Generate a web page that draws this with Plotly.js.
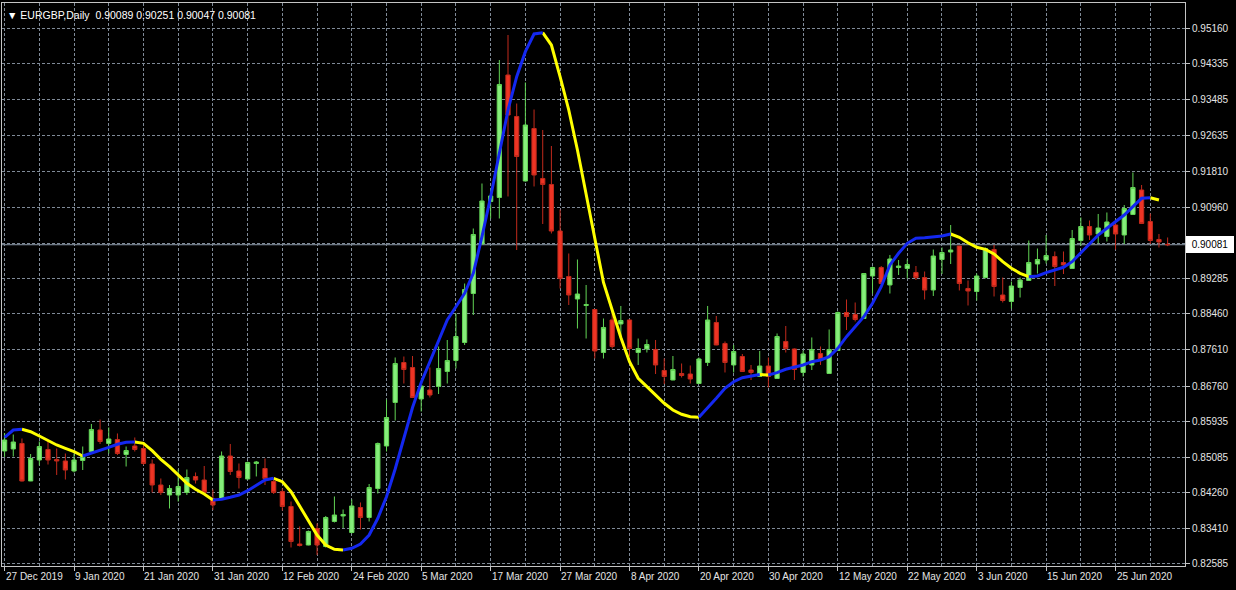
<!DOCTYPE html>
<html><head><meta charset="utf-8">
<script src="https://cdn.plot.ly/plotly-3.0.1.min.js"></script>
<style>html,body{margin:0;padding:0;background:#000;overflow:hidden}#chart{width:1236px;height:590px}</style>
</head><body><div id="chart"></div>
<script>
const dates = [
 '2019-12-27','2019-12-30','2019-12-31',
 '2020-01-02','2020-01-03','2020-01-06','2020-01-07','2020-01-08','2020-01-09','2020-01-10','2020-01-13','2020-01-14','2020-01-15','2020-01-16','2020-01-17','2020-01-20','2020-01-21','2020-01-22','2020-01-23','2020-01-24','2020-01-27','2020-01-28','2020-01-29','2020-01-30','2020-01-31',
 '2020-02-03','2020-02-04','2020-02-05','2020-02-06','2020-02-07','2020-02-10','2020-02-11','2020-02-12','2020-02-13','2020-02-14','2020-02-17','2020-02-18','2020-02-19','2020-02-20','2020-02-21','2020-02-24','2020-02-25','2020-02-26','2020-02-27','2020-02-28',
 '2020-03-02','2020-03-03','2020-03-04','2020-03-05','2020-03-06','2020-03-09','2020-03-10','2020-03-11','2020-03-12','2020-03-13','2020-03-16','2020-03-17','2020-03-18','2020-03-19','2020-03-20','2020-03-23','2020-03-24','2020-03-25','2020-03-26','2020-03-27','2020-03-30','2020-03-31',
 '2020-04-01','2020-04-02','2020-04-03','2020-04-06','2020-04-07','2020-04-08','2020-04-09','2020-04-10','2020-04-13','2020-04-14','2020-04-15','2020-04-16','2020-04-17','2020-04-20','2020-04-21','2020-04-22','2020-04-23','2020-04-24','2020-04-27','2020-04-28','2020-04-29','2020-04-30',
 '2020-05-01','2020-05-04','2020-05-05','2020-05-06','2020-05-07','2020-05-08','2020-05-11','2020-05-12','2020-05-13','2020-05-14','2020-05-15','2020-05-18','2020-05-19','2020-05-20','2020-05-21','2020-05-22','2020-05-25','2020-05-26','2020-05-27','2020-05-28','2020-05-29',
 '2020-06-01','2020-06-02','2020-06-03','2020-06-04','2020-06-05','2020-06-08','2020-06-09','2020-06-10','2020-06-11','2020-06-12','2020-06-15','2020-06-16','2020-06-17','2020-06-18','2020-06-19','2020-06-22','2020-06-23','2020-06-24','2020-06-25','2020-06-26','2020-06-29','2020-06-30',
 '2020-07-01','2020-07-02','2020-07-03'
];
const open = [
 0.85236,0.85283,0.85412,0.84531,0.85024,0.85271,0.85036,0.85001,0.84766,0.85012,
 0.85224,0.85729,0.85412,0.85506,0.85153,0.85353,0.85294,0.84930,0.84437,0.84202,
 0.84202,0.84261,0.84637,0.84554,0.84120,0.84120,0.85118,0.84766,0.84578,0.84942,
 0.84824,0.84519,0.84284,0.83932,0.83051,0.83027,0.83415,0.82992,0.83580,0.83709,
 0.83321,0.83908,0.83673,0.84355,0.85353,0.86375,0.87314,0.87197,0.86457,0.86668,
 0.86751,0.87103,0.87361,0.87784,0.88935,0.90098,0.91096,0.91190,0.94068,0.93093,
 0.91578,0.92811,0.91637,0.91496,0.90403,0.89335,0.88806,0.88653,0.88559,0.87549,
 0.88313,0.88219,0.88313,0.87549,0.87632,0.87620,0.87127,0.86903,0.87056,0.87044,
 0.86821,0.87314,0.88254,0.87761,0.87256,0.87455,0.87138,0.86986,0.87232,0.86939,
 0.87808,0.87632,0.87080,0.87256,0.87526,0.87056,0.87596,0.88489,0.88442,0.88348,
 0.89346,0.89546,0.89135,0.89546,0.89522,0.89429,0.89311,0.89017,0.89734,0.89910,
 0.90051,0.89053,0.88982,0.89311,0.89969,0.88900,0.88747,0.89076,0.89241,0.89628,
 0.89722,0.89804,0.89663,0.89522,0.90180,0.90509,0.90333,0.90274,0.90544,0.90309,
 0.90791,0.91366,0.90627,0.90204,0.90089
];
const high = [
 0.85658,0.85623,0.85529,0.85165,0.85459,0.85470,0.85294,0.85177,0.85177,0.85341,
 0.85870,0.85975,0.85788,0.85647,0.85341,0.85553,0.85377,0.85036,0.84590,0.84437,
 0.84801,0.84801,0.84731,0.84883,0.84331,0.85224,0.85400,0.84942,0.84989,0.85001,
 0.85059,0.84590,0.84355,0.84049,0.83462,0.83368,0.83533,0.83709,0.84167,0.83861,
 0.84096,0.84026,0.84460,0.85435,0.86445,0.87432,0.87455,0.87467,0.86786,0.87197,
 0.87690,0.87843,0.88465,0.89170,0.90462,0.91519,0.91402,0.94420,0.95007,0.93398,
 0.93892,0.93257,0.92776,0.92400,0.90908,0.89875,0.89734,0.89135,0.88565,0.88348,
 0.88583,0.88642,0.88324,0.87878,0.87855,0.87843,0.87408,0.87467,0.87291,0.87244,
 0.87432,0.88642,0.88407,0.87808,0.87726,0.87514,0.87256,0.87585,0.87432,0.87996,
 0.88172,0.87645,0.87596,0.87902,0.87690,0.88090,0.88512,0.88794,0.88724,0.89417,
 0.89569,0.89581,0.89840,0.89722,0.89734,0.89581,0.89452,0.89969,0.90016,0.90544,
 0.90055,0.89241,0.89405,0.90016,0.90075,0.89311,0.89217,0.89311,0.90180,0.89992,
 0.90309,0.89922,0.89922,0.90427,0.90720,0.90650,0.90803,0.90838,0.90662,0.91014,
 0.91778,0.91484,0.90814,0.90333,0.90251
];
const low = [
 0.85095,0.85106,0.84519,0.84528,0.84895,0.84918,0.84672,0.84566,0.84731,0.84789,
 0.85200,0.85400,0.85177,0.85142,0.84871,0.85224,0.84907,0.84261,0.84202,0.83885,
 0.84049,0.84202,0.84472,0.84225,0.83850,0.84096,0.84672,0.84355,0.84566,0.84637,
 0.84437,0.84225,0.83838,0.82969,0.82992,0.83020,0.82793,0.82969,0.83556,0.83427,
 0.83298,0.83392,0.83580,0.84237,0.85224,0.85952,0.86821,0.86485,0.86163,0.86492,
 0.86574,0.86821,0.87173,0.87726,0.88430,0.90090,0.90697,0.90697,0.91214,0.89957,
 0.91566,0.91449,0.90568,0.90345,0.89053,0.88665,0.88113,0.87878,0.87408,0.87408,
 0.87643,0.87925,0.87455,0.87256,0.87549,0.87044,0.86809,0.86898,0.86962,0.86821,
 0.86815,0.87232,0.87720,0.87080,0.87080,0.87098,0.86903,0.86980,0.86727,0.86933,
 0.87549,0.86903,0.86986,0.87138,0.87256,0.87050,0.87590,0.88078,0.88278,0.88342,
 0.88935,0.89158,0.88935,0.89370,0.89288,0.89252,0.88794,0.88877,0.89393,0.89628,
 0.89006,0.88653,0.88771,0.89288,0.88865,0.88724,0.88583,0.88841,0.89235,0.89405,
 0.89640,0.89111,0.89393,0.89516,0.90051,0.90192,0.90110,0.90157,0.89969,0.90098,
 0.90785,0.90575,0.90098,0.90016,0.90047
];
const close = [
 0.85494,0.85447,0.84531,0.85059,0.85341,0.85024,0.85001,0.84789,0.85024,0.85106,
 0.85741,0.85459,0.85517,0.85177,0.85247,0.85271,0.84942,0.84437,0.84261,0.84355,
 0.84402,0.84613,0.84554,0.84261,0.83967,0.85118,0.84754,0.84613,0.84965,0.84977,
 0.84590,0.84261,0.83932,0.83110,0.83016,0.83345,0.83027,0.83673,0.83732,0.83744,
 0.83944,0.83673,0.84378,0.85412,0.86022,0.87291,0.87150,0.86492,0.86762,0.86551,
 0.87173,0.87361,0.87925,0.89029,0.90321,0.91108,0.91226,0.93845,0.93128,0.92153,
 0.92893,0.91719,0.91496,0.90403,0.89288,0.88900,0.88923,0.88677,0.87585,0.88137,
 0.87690,0.88301,0.87643,0.87643,0.87737,0.87256,0.86986,0.87150,0.87009,0.86927,
 0.87397,0.88313,0.87726,0.87314,0.87573,0.87103,0.87080,0.87232,0.86986,0.87925,
 0.87643,0.87150,0.87514,0.87620,0.87385,0.87620,0.88489,0.88395,0.88324,0.89405,
 0.89546,0.89170,0.89746,0.89581,0.89616,0.89311,0.89017,0.89816,0.89898,0.89957,
 0.89170,0.88994,0.89346,0.89992,0.89100,0.88771,0.89111,0.89252,0.89663,0.89734,
 0.89828,0.89569,0.89605,0.90227,0.90509,0.90309,0.90474,0.90615,0.90333,0.90932,
 0.91425,0.90580,0.90180,0.90145,0.90081
];
const ma = [
 0.85553,0.85729,0.85745,0.85689,0.85588,0.85478,0.85377,0.85299,0.85219,0.85118,
 0.85182,0.85259,0.85322,0.85393,0.85440,0.85447,0.85416,0.85243,0.85041,0.84867,
 0.84672,0.84477,0.84336,0.84225,0.84085,0.84101,0.84148,0.84202,0.84303,0.84437,
 0.84554,0.84594,0.84514,0.84280,0.83944,0.83575,0.83262,0.83027,0.82926,0.82910,
 0.82950,0.83051,0.83262,0.83655,0.84162,0.84813,0.85564,0.86257,0.86845,0.87350,
 0.87808,0.88313,0.88625,0.88940,0.89410,0.90269,0.91209,0.92229,0.93246,0.94028,
 0.94615,0.95031,0.95061,0.94772,0.94028,0.93246,0.92306,0.91289,0.90192,0.89194,
 0.88548,0.87902,0.87333,0.86943,0.86746,0.86551,0.86356,0.86199,0.86098,0.86041,
 0.86027,0.86238,0.86473,0.86708,0.86863,0.86957,0.86997,0.87030,0.87020,0.87075,
 0.87155,0.87202,0.87256,0.87333,0.87373,0.87451,0.87648,0.87920,0.88155,0.88390,
 0.88705,0.89095,0.89605,0.89880,0.90114,0.90232,0.90246,0.90269,0.90286,0.90333,
 0.90255,0.90128,0.90020,0.89973,0.89863,0.89682,0.89527,0.89410,0.89330,0.89346,
 0.89424,0.89488,0.89551,0.89682,0.89894,0.90114,0.90309,0.90467,0.90622,0.90779,
 0.90974,0.91171,0.91186,0.91132,null
];
const tickDates = ['2019-12-27','2020-01-09','2020-01-21','2020-01-31','2020-02-12','2020-02-24','2020-03-05','2020-03-17','2020-03-27','2020-04-08','2020-04-20','2020-04-30','2020-05-12','2020-05-22','2020-06-03','2020-06-15','2020-06-25'];
const tickLabels = ['27 Dec 2019','9 Jan 2020','21 Jan 2020','31 Jan 2020','12 Feb 2020','24 Feb 2020','5 Mar 2020','17 Mar 2020','27 Mar 2020','8 Apr 2020','20 Apr 2020','30 Apr 2020','12 May 2020','22 May 2020','3 Jun 2020','15 Jun 2020','25 Jun 2020'];
const priceTicks = [0.82585,0.83410,0.84260,0.85085,0.85935,0.86760,0.87610,0.88460,0.89285,0.90110,0.90960,0.91810,0.92635,0.93485,0.94335,0.95160];
const symbol = 'EURGBP,Daily';

const idx = dates.map((d, i) => i);
const tickIdx = tickDates.map(d => dates.indexOf(d));
const n = close.length;
const last = n - 1;

function segments(up) {
  const xs = [], ys = [];
  let inRun = false;
  for (let i = 1; i < ma.length; i++) {
    if (ma[i] == null || ma[i - 1] == null) { inRun = false; continue; }
    const isUp = ma[i] > ma[i - 1];
    if (isUp === up) {
      if (!inRun) {
        if (xs.length) { xs.push(null); ys.push(null); }
        xs.push(i - 1); ys.push(ma[i - 1]);
      }
      xs.push(i); ys.push(ma[i]);
      inRun = true;
    } else inRun = false;
  }
  return { xs, ys };
}
const upSeg = segments(true), dnSeg = segments(false);

const gridColor = '#7f8a97';
const gridDash = '3px,2px';
const axisColor = '#c4c4c4';
const txtColor = '#e4e4e4';
const font = 'Liberation Sans, Arial, sans-serif';

const traces = [
  {
    type: 'candlestick', x: idx, open: open, high: high, low: low, close: close,
    increasing: { line: { color: '#62d455', width: 1 }, fillcolor: '#86ee7b' },
    decreasing: { line: { color: '#c22a1c', width: 1 }, fillcolor: '#ee3424' },
    whiskerwidth: 0, hoverinfo: 'skip', showlegend: false
  },
  { type: 'scatter', mode: 'lines', x: dnSeg.xs, y: dnSeg.ys, line: { color: '#ffff00', width: 3 }, connectgaps: false, hoverinfo: 'skip', showlegend: false },
  { type: 'scatter', mode: 'lines', x: upSeg.xs, y: upSeg.ys, line: { color: '#1428f0', width: 3 }, connectgaps: false, hoverinfo: 'skip', showlegend: false }
];

const annotations = tickIdx.map((xi, k) => ({
  x: xi, xref: 'x', y: 0, yref: 'paper', xanchor: 'left', yanchor: 'top',
  xshift: -1, yshift: -3, text: tickLabels[k], showarrow: false,
  font: { family: font, size: 10, color: txtColor }
}));
annotations.push({
  x: 0, xref: 'paper', y: 1, yref: 'paper', xanchor: 'left', yanchor: 'top',
  xshift: 3, yshift: -4, showarrow: false,
  text: '\u25BC ' + symbol + '  ' + [open[last], high[last], low[last], close[last]].map(v => v.toFixed(5)).join(' '),
  font: { family: font, size: 10.5, color: '#ffffff' }
});
annotations.push({
  x: 1, xref: 'paper', y: close[last], yref: 'y', xanchor: 'left', yanchor: 'middle',
  xshift: 1, showarrow: false, text: close[last].toFixed(5),
  bgcolor: '#ffffff', bordercolor: '#ffffff', borderpad: 2, width: 42,
  font: { family: font, size: 10, color: '#000000' }
});

const layout = {
  width: 1236, height: 590,
  paper_bgcolor: '#000000', plot_bgcolor: '#000000',
  margin: { l: 2, r: 51, t: 3, b: 24 },
  showlegend: false,
  xaxis: {
    type: 'linear', range: [-0.3, 136], fixedrange: true,
    tickmode: 'array', tickvals: tickIdx, showticklabels: false,
    ticks: 'outside', ticklen: 4, tickcolor: axisColor,
    showgrid: true, gridcolor: gridColor, griddash: gridDash, gridwidth: 1,
    minor: { tickmode: 'linear', tick0: 0, dtick: 4, showgrid: true, gridcolor: gridColor, griddash: gridDash, gridwidth: 1, ticks: '' },
    showline: true, linecolor: axisColor, linewidth: 1, mirror: true,
    zeroline: false, rangeslider: { visible: false }
  },
  yaxis: {
    side: 'right', range: [0.82534, 0.95759], fixedrange: true,
    tickmode: 'array', tickvals: priceTicks,
    ticktext: priceTicks.map(v => Math.abs(v - close[last]) < 0.0005 ? '' : v.toFixed(5)),
    ticks: 'outside', ticklen: 4, tickcolor: axisColor,
    tickfont: { family: font, size: 10, color: txtColor },
    showgrid: true, gridcolor: gridColor, griddash: gridDash, gridwidth: 1,
    showline: true, linecolor: axisColor, linewidth: 1, mirror: true,
    zeroline: false
  },
  shapes: [{
    type: 'line', xref: 'paper', x0: 0, x1: 1, yref: 'y', y0: close[last], y1: close[last],
    line: { color: '#8e9cab', width: 1 }, layer: 'below'
  }],
  annotations: annotations
};

Plotly.newPlot('chart', traces, layout, { staticPlot: true, displayModeBar: false });
</script>
</body></html>
